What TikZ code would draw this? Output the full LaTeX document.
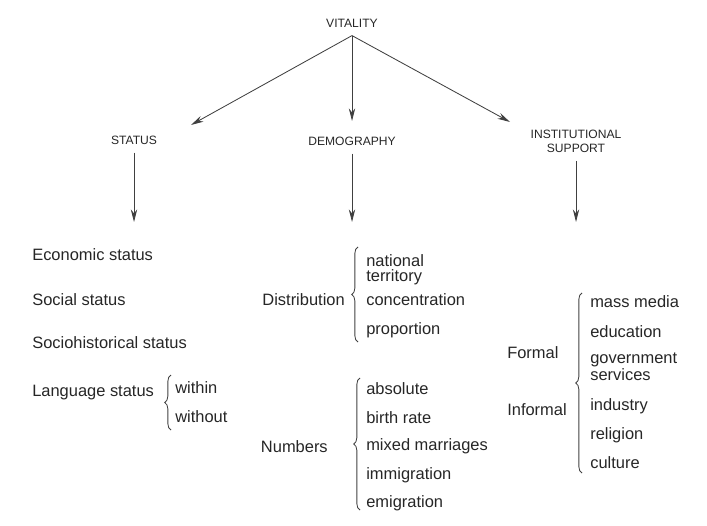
\documentclass[tikz,border=0pt]{standalone}
\usepackage{fontspec}
\setmainfont{Liberation Sans}
\usetikzlibrary{arrows.meta}
\usetikzlibrary{decorations.pathreplacing}

\begin{document}
\begin{tikzpicture}[x=0.025cm, y=-0.025cm,
    head/.style={font=\fontsize{8.6}{10}\selectfont, align=center,
      inner sep=1pt, outer sep=5pt, text=black!85},
    item/.style={font=\fontsize{11.7}{10.6}\selectfont, align=left,
      inner sep=0pt, anchor=west, text=black!85},
    arr/.style={-{Stealth[length=9pt,width=4.5pt]}, line width=0.6pt, draw=black!75},
    brc/.style={decorate, decoration={brace, amplitude=4.5pt},
      line width=0.6pt, draw=black!75}]
    \useasboundingbox (0,0) rectangle (707,525);

    \node[head] (vit) at (352,23) {VITALITY};
    \node[head] (stat) at (134,140) {STATUS};
    \node[head] (demo) at (352,141) {DEMOGRAPHY};
    \node[head] (inst) at (576,141) {INSTITUTIONAL\\SUPPORT};

    \coordinate (statIn) at (191,125);
    \coordinate (demoIn) at (352,121);
    \coordinate (instIn) at (510,122);
    \foreach \n in {stat,demo,inst}{
      \draw[arr] (vit.south) -- (\n In);
    }
    \coordinate (statOut) at (134,222);
    \coordinate (demoOut) at (352,222);
    \coordinate (instOut) at (576,222);
    \foreach \n in {stat,demo,inst}{
      \draw[arr] (\n.south) -- (\n Out);
    }

    % status
    \foreach \y/\t/\n in {255/Economic status/econ, 300/Social status/soc,
      343/Sociohistorical status/hist, 393/Language status/lang}{
      \node[item] (\n) at (32,\y) {\t};
    }
    \coordinate (langB) at (171,430);
    \coordinate (langT) at (171,375);
    \draw[brc] (langB) -- (langT);
    \node[item] (within) at (175,388) {within};
    \node[item] (without) at (175,417) {without};

    % demography
    \node[item, anchor=east] (distr) at (345,300) {Distribution};
    \coordinate (distrB) at (358,342);
    \coordinate (distrT) at (358,247);
    \draw[brc] (distrB) -- (distrT);
    \foreach \y/\t/\n in {270/national\\territory/natl, 300/concentration/conc,
      330/proportion/prop}{
      \node[item] (\n) at (366,\y) {\t};
    }

    \node[item, anchor=east] (numb) at (328,447) {Numbers};
    \coordinate (numbB) at (360,510);
    \coordinate (numbT) at (360,378);
    \draw[brc] (numbB) -- (numbT);
    \foreach \y/\t/\n in {389/absolute/abso, 418/birth rate/birth,
      446/mixed marriages/mixed, 475/immigration/immi, 503/emigration/emi}{
      \node[item] (\n) at (366,\y) {\t};
    }

    % institutional support
    \node[item] (formal) at (507,353) {Formal};
    \node[item] (informal) at (507,410) {Informal};
    \coordinate (instB) at (582,473);
    \coordinate (instT) at (582,293);
    \draw[brc] (instB) -- (instT);
    \foreach \y/\t/\n in {302/mass media/media, 332/education/edu,
      367/government\\services/gov, 406/industry/ind, 435/religion/rel,
      463/culture/cult}{
      \node[item] (\n) at (590,\y) {\t};
    }
\end{tikzpicture}
\end{document}
